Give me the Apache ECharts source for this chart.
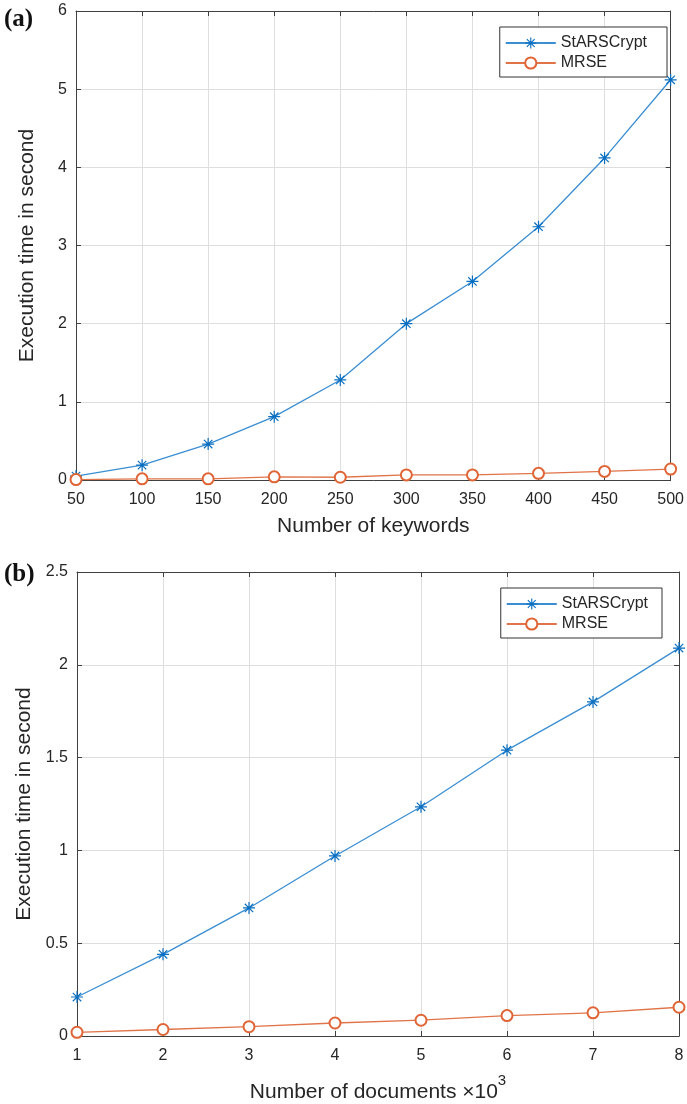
<!DOCTYPE html>
<html>
<head>
<meta charset="utf-8">
<script src="https://cdn.jsdelivr.net/npm/echarts@6/dist/echarts.min.js"></script>
<style>
html,body{margin:0;padding:0;background:#fff;}
#c{width:687px;height:1104px;}
</style>
</head>
<body>
<div id="c"></div>
<script>
// ---- data ----
const keywords = [50, 100, 150, 200, 250, 300, 350, 400, 450, 500];
const starKeywords = [0.05, 0.19, 0.46, 0.81, 1.28, 2.0, 2.54, 3.24, 4.12, 5.12];
const mrseKeywords = [0.005, 0.015, 0.015, 0.04, 0.035, 0.065, 0.065, 0.085, 0.11, 0.14];

const documents = [1, 2, 3, 4, 5, 6, 7, 8];
const starDocs = [0.21, 0.44, 0.69, 0.97, 1.235, 1.54, 1.80, 2.09];
const mrseDocs = [0.02, 0.035, 0.05, 0.07, 0.085, 0.11, 0.125, 0.155];

const seriesNames = ['StARSCrypt', 'MRSE'];
const panelLabels = ['(a)', '(b)'];
const yName = 'Execution time in second';
const xNameTop = 'Number of keywords';

// ---- styles ----
const FONT = 'Liberation Sans, Arial, Helvetica, sans-serif';
const AX = '#404040';
const GRIDC = '#dedede';
const BLUE_L = '#3b8ed2', BLUE_M = '#0a6fc0';
const ORG_L = '#e07448', ORG_M = '#e06536';
const asterisk = 'path://M9 0L11 0L11 20L9 20Z M0 9L20 9L20 11L0 11Z M3.71 2.29L17.71 16.29L16.29 17.71L2.29 3.71Z M16.29 2.29L17.71 3.71L3.71 17.71L2.29 16.29Z';

function pairs(xs, ys) { return xs.map((x, i) => [x, ys[i]]); }

function mainX(gi, min, max, interval, name, nameGap, rich) {
  return {
    type: 'value', gridIndex: gi, min, max, interval,
    name, nameLocation: 'middle', nameGap,
    nameTextStyle: rich ? { rich } : { fontFamily: FONT, fontSize: 21, color: '#262626' },
    axisLine: { show: true, lineStyle: { color: AX, width: 1 } },
    axisTick: { show: true, inside: true, length: 5, lineStyle: { color: AX } },
    axisLabel: { fontFamily: FONT, fontSize: 16, color: '#262626', margin: 12 },
    splitLine: { show: true, lineStyle: { color: GRIDC, width: 1 } }
  };
}
function mainY(gi, min, max, interval) {
  return {
    type: 'value', gridIndex: gi, min, max, interval,
    name: yName, nameLocation: 'middle', nameGap: 38,
    nameTextStyle: { fontFamily: FONT, fontSize: 21, color: '#262626' },
    axisLine: { show: true, lineStyle: { color: AX, width: 1 } },
    axisTick: { show: true, inside: true, length: 5, lineStyle: { color: AX } },
    axisLabel: { fontFamily: FONT, fontSize: 16, color: '#262626', margin: 9 },
    splitLine: { show: true, lineStyle: { color: GRIDC, width: 1 } }
  };
}
function mirror(gi, min, max, interval, pos) {
  return {
    type: 'value', gridIndex: gi, min, max, interval, position: pos,
    axisLine: { show: true, onZero: false, lineStyle: { color: AX, width: 1 } },
    axisTick: { show: true, inside: true, length: 5, lineStyle: { color: AX } },
    axisLabel: { show: false }, splitLine: { show: false }
  };
}

function starSeries(xi, yi, data) {
  return {
    name: seriesNames[0], type: 'line', xAxisIndex: xi, yAxisIndex: yi,
    data, symbol: asterisk, symbolSize: 12, showAllSymbol: true,
    lineStyle: { color: BLUE_L, width: 1.3 },
    itemStyle: { color: BLUE_M }
  };
}
function mrseSeries(xi, yi, data) {
  return {
    name: seriesNames[1], type: 'line', xAxisIndex: xi, yAxisIndex: yi,
    data, symbol: 'emptyCircle', symbolSize: 11, showAllSymbol: true,
    lineStyle: { color: ORG_L, width: 1.3 },
    itemStyle: { color: ORG_M, borderColor: ORG_M, borderWidth: 1.3 }
  };
}

const legendBase = {
  orient: 'vertical', backgroundColor: '#fff',
  borderColor: '#333', borderWidth: 1, borderRadius: 0,
  itemGap: 4, itemWidth: 50, itemHeight: 14,
  textStyle: { fontFamily: FONT, fontSize: 16, color: '#262626' },
  data: seriesNames
};

const chart = echarts.init(document.getElementById('c'), null, { renderer: 'canvas' });
chart.setOption({
  backgroundColor: '#fff',
  animation: false,
  grid: [
    { left: 76, right: 15, top: 11, bottom: 624 },
    { left: 77, right: 8, top: 572, bottom: 63 }
  ],
  legend: [
    Object.assign({}, legendBase, { right: 20, top: 27, padding: [8, 20, 6, 5] }),
    Object.assign({}, legendBase, { right: 25, top: 588, padding: [8, 14, 6, 5] })
  ],
  xAxis: [
    mainX(0, 50, 500, 50, xNameTop, 36),
    mainX(1, 1, 8, 1, '{n|Number of documents ×10}{s|3}', 37, {
      n: { fontFamily: FONT, fontSize: 21, color: '#262626', verticalAlign: 'bottom', lineHeight: 30 },
      s: { fontFamily: FONT, fontSize: 15, color: '#262626', verticalAlign: 'top', lineHeight: 30 }
    }),
    mirror(0, 50, 500, 50, 'top'),
    mirror(1, 1, 8, 1, 'top')
  ],
  yAxis: [
    mainY(0, 0, 6, 1),
    mainY(1, 0, 2.5, 0.5),
    mirror(0, 0, 6, 1, 'right'),
    mirror(1, 0, 2.5, 0.5, 'right')
  ],
  graphic: [
    { type: 'text', left: 4, top: 7, style: { text: panelLabels[0], font: 'bold 25px "Liberation Serif", "Times New Roman", serif', fill: '#111' } },
    { type: 'text', left: 4, top: 562, style: { text: panelLabels[1], font: 'bold 25px "Liberation Serif", "Times New Roman", serif', fill: '#111' } }
  ],
  series: [
    starSeries(0, 0, pairs(keywords, starKeywords)),
    mrseSeries(0, 0, pairs(keywords, mrseKeywords)),
    starSeries(1, 1, pairs(documents, starDocs)),
    mrseSeries(1, 1, pairs(documents, mrseDocs))
  ]
});
</script>
</body>
</html>
